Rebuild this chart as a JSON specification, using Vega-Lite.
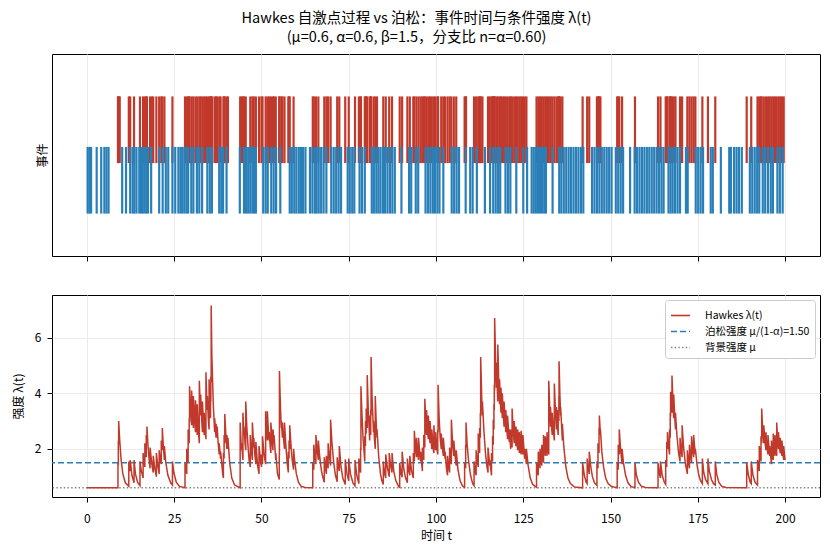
{
"$schema": "https://vega.github.io/schema/vega-lite/v6.json",
"padding": {"left": 11, "top": 11, "right": 10, "bottom": 3},
"background": "white",
"title": {"text": ["Hawkes 自激点过程 vs 泊松：事件时间与条件强度 λ(t)", "(μ=0.6, α=0.6, β=1.5，分支比 n=α=0.60)"], "fontSize": 14.5, "fontWeight": "normal", "anchor": "middle", "lineHeight": 19, "offset": 8, "color": "black"},
"config": {
  "font": "Noto Sans CJK SC",
  "view": {"stroke": "black", "strokeWidth": 1},
  "axis": {"labelFontSize": 12, "titleFontSize": 12, "labelColor": "black", "titleColor": "black", "tickColor": "black", "domain": false, "gridColor": "#ebebeb", "tickSize": 5, "titleFontWeight": "normal", "labelPadding": 6, "titlePadding": 9}
},
"datasets": {
"events": [
{"t":8.9,"s":"H"},{"t":9.0,"s":"H"},{"t":9.1,"s":"H"},{"t":9.4,"s":"H"},{"t":12.0,"s":"H"},{"t":12.4,"s":"H"},{"t":13.5,"s":"H"},{"t":15.2,"s":"H"},{"t":16.1,"s":"H"},{"t":16.6,"s":"H"},{"t":17.0,"s":"H"},{"t":17.2,"s":"H"},{"t":18.1,"s":"H"},{"t":18.6,"s":"H"},{"t":19.0,"s":"H"},{"t":19.9,"s":"H"},{"t":20.7,"s":"H"},{"t":21.3,"s":"H"},{"t":21.6,"s":"H"},{"t":22.2,"s":"H"},{"t":24.5,"s":"H"},
{"t":28.1,"s":"H"},{"t":28.6,"s":"H"},{"t":29.0,"s":"H"},{"t":29.3,"s":"H"},{"t":29.4,"s":"H"},{"t":30.0,"s":"H"},{"t":30.5,"s":"H"},{"t":31.1,"s":"H"},{"t":31.6,"s":"H"},{"t":32.2,"s":"H"},{"t":32.6,"s":"H"},{"t":33.1,"s":"H"},{"t":33.6,"s":"H"},{"t":34.1,"s":"H"},{"t":34.5,"s":"H"},{"t":35.0,"s":"H"},{"t":35.4,"s":"H"},{"t":35.5,"s":"H"},{"t":35.6,"s":"H"},{"t":35.9,"s":"H"},{"t":36.6,"s":"H"},{"t":37.0,"s":"H"},{"t":37.3,"s":"H"},{"t":37.9,"s":"H"},{"t":38.3,"s":"H"},{"t":39.1,"s":"H"},{"t":39.3,"s":"H"},{"t":39.5,"s":"H"},{"t":40.1,"s":"H"},{"t":40.4,"s":"H"},
{"t":43.9,"s":"H"},{"t":44.3,"s":"H"},{"t":44.7,"s":"H"},{"t":45.0,"s":"H"},{"t":45.5,"s":"H"},{"t":46.8,"s":"H"},{"t":47.4,"s":"H"},{"t":47.8,"s":"H"},{"t":48.4,"s":"H"},{"t":49.3,"s":"H"},{"t":50.0,"s":"H"},{"t":50.3,"s":"H"},{"t":51.2,"s":"H"},{"t":51.7,"s":"H"},{"t":52.2,"s":"H"},{"t":52.7,"s":"H"},{"t":53.3,"s":"H"},{"t":53.6,"s":"H"},{"t":54.1,"s":"H"},{"t":55.1,"s":"H"},{"t":55.15,"s":"H"},{"t":55.7,"s":"H"},{"t":56.0,"s":"H"},{"t":56.6,"s":"H"},{"t":57.7,"s":"H"},{"t":57.9,"s":"H"},{"t":58.1,"s":"H"},{"t":59.2,"s":"H"},
{"t":64.7,"s":"H"},{"t":65.0,"s":"H"},{"t":65.6,"s":"H"},{"t":66.3,"s":"H"},{"t":68.0,"s":"H"},{"t":68.6,"s":"H"},{"t":69.1,"s":"H"},{"t":69.8,"s":"H"},{"t":71.7,"s":"H"},{"t":72.3,"s":"H"},{"t":74.0,"s":"H"},{"t":75.0,"s":"H"},{"t":76.8,"s":"H"},{"t":77.9,"s":"H"},{"t":78.4,"s":"H"},{"t":78.5,"s":"H"},{"t":79.6,"s":"H"},{"t":79.8,"s":"H"},{"t":80.0,"s":"H"},{"t":80.3,"s":"H"},{"t":81.0,"s":"H"},{"t":81.3,"s":"H"},{"t":81.4,"s":"H"},{"t":82.1,"s":"H"},{"t":82.6,"s":"H"},{"t":83.1,"s":"H"},{"t":84.9,"s":"H"},{"t":85.6,"s":"H"},{"t":86.6,"s":"H"},{"t":87.4,"s":"H"},{"t":89.6,"s":"H"},{"t":90.3,"s":"H"},{"t":91.8,"s":"H"},{"t":92.5,"s":"H"},{"t":93.5,"s":"H"},{"t":93.8,"s":"H"},{"t":94.4,"s":"H"},{"t":95.0,"s":"H"},{"t":95.6,"s":"H"},{"t":96.1,"s":"H"},{"t":96.5,"s":"H"},{"t":96.8,"s":"H"},{"t":97.3,"s":"H"},{"t":97.8,"s":"H"},{"t":98.3,"s":"H"},{"t":98.8,"s":"H"},{"t":99.4,"s":"H"},{"t":99.9,"s":"H"},{"t":100.5,"s":"H"},{"t":100.6,"s":"H"},{"t":101.5,"s":"H"},{"t":102.1,"s":"H"},{"t":102.6,"s":"H"},{"t":103.3,"s":"H"},{"t":103.9,"s":"H"},{"t":104.4,"s":"H"},{"t":105.1,"s":"H"},{"t":105.8,"s":"H"},
{"t":108.2,"s":"H"},{"t":108.5,"s":"H"},{"t":108.6,"s":"H"},{"t":110.9,"s":"H"},{"t":111.5,"s":"H"},{"t":112.1,"s":"H"},{"t":112.5,"s":"H"},{"t":112.7,"s":"H"},{"t":112.8,"s":"H"},{"t":113.3,"s":"H"},{"t":114.9,"s":"H"},{"t":115.4,"s":"H"},{"t":115.9,"s":"H"},{"t":116.2,"s":"H"},{"t":116.4,"s":"H"},{"t":116.6,"s":"H"},{"t":116.7,"s":"H"},{"t":116.8,"s":"H"},{"t":117.3,"s":"H"},{"t":117.7,"s":"H"},{"t":118.2,"s":"H"},{"t":118.6,"s":"H"},{"t":119.0,"s":"H"},{"t":119.5,"s":"H"},{"t":120.0,"s":"H"},{"t":120.5,"s":"H"},{"t":121.0,"s":"H"},{"t":121.4,"s":"H"},{"t":121.8,"s":"H"},{"t":122.4,"s":"H"},{"t":122.9,"s":"H"},{"t":123.4,"s":"H"},{"t":123.9,"s":"H"},{"t":124.4,"s":"H"},{"t":124.9,"s":"H"},{"t":125.4,"s":"H"},{"t":125.9,"s":"H"},
{"t":128.8,"s":"H"},{"t":129.3,"s":"H"},{"t":129.8,"s":"H"},{"t":130.3,"s":"H"},{"t":130.8,"s":"H"},{"t":131.3,"s":"H"},{"t":131.8,"s":"H"},{"t":132.3,"s":"H"},{"t":132.8,"s":"H"},{"t":133.3,"s":"H"},{"t":133.9,"s":"H"},{"t":134.5,"s":"H"},{"t":135.0,"s":"H"},{"t":135.2,"s":"H"},{"t":135.25,"s":"H"},{"t":135.7,"s":"H"},{"t":136.2,"s":"H"},{"t":142.0,"s":"H"},{"t":143.3,"s":"H"},{"t":143.9,"s":"H"},{"t":146.1,"s":"H"},{"t":146.4,"s":"H"},{"t":146.7,"s":"H"},{"t":146.8,"s":"H"},{"t":147.1,"s":"H"},{"t":151.9,"s":"H"},{"t":152.2,"s":"H"},{"t":152.5,"s":"H"},{"t":153.3,"s":"H"},{"t":157.0,"s":"H"},{"t":163.6,"s":"H"},{"t":164.3,"s":"H"},{"t":165.8,"s":"H"},{"t":166.1,"s":"H"},{"t":166.3,"s":"H"},{"t":166.9,"s":"H"},{"t":167.1,"s":"H"},{"t":167.2,"s":"H"},{"t":167.6,"s":"H"},{"t":168.1,"s":"H"},{"t":168.6,"s":"H"},{"t":169.9,"s":"H"},{"t":170.5,"s":"H"},{"t":172.0,"s":"H"},{"t":172.6,"s":"H"},{"t":173.2,"s":"H"},{"t":173.8,"s":"H"},{"t":174.3,"s":"H"},{"t":176.3,"s":"H"},{"t":177.9,"s":"H"},{"t":180.0,"s":"H"},{"t":189.0,"s":"H"},{"t":190.3,"s":"H"},{"t":192.1,"s":"H"},{"t":192.6,"s":"H"},{"t":193.1,"s":"H"},{"t":193.3,"s":"H"},{"t":193.9,"s":"H"},{"t":194.5,"s":"H"},{"t":195.1,"s":"H"},{"t":195.6,"s":"H"},{"t":196.1,"s":"H"},{"t":196.6,"s":"H"},{"t":197.1,"s":"H"},{"t":197.6,"s":"H"},{"t":198.1,"s":"H"},{"t":198.6,"s":"H"},{"t":199.1,"s":"H"},{"t":199.6,"s":"H"},
{"t":0.2,"s":"P"},{"t":0.7,"s":"P"},{"t":1.2,"s":"P"},{"t":2.8,"s":"P"},{"t":4.1,"s":"P"},{"t":5.0,"s":"P"},{"t":5.6,"s":"P"},{"t":6.2,"s":"P"},{"t":10.1,"s":"P"},{"t":11.2,"s":"P"},{"t":12.4,"s":"P"},{"t":13.1,"s":"P"},{"t":13.6,"s":"P"},{"t":14.2,"s":"P"},{"t":15.0,"s":"P"},{"t":15.5,"s":"P"},{"t":16.0,"s":"P"},{"t":16.5,"s":"P"},{"t":17.0,"s":"P"},{"t":17.5,"s":"P"},{"t":18.4,"s":"P"},{"t":20.7,"s":"P"},{"t":21.7,"s":"P"},{"t":22.6,"s":"P"},{"t":23.3,"s":"P"},{"t":24.5,"s":"P"},{"t":25.3,"s":"P"},{"t":26.2,"s":"P"},{"t":26.8,"s":"P"},{"t":27.3,"s":"P"},{"t":27.9,"s":"P"},{"t":28.5,"s":"P"},{"t":29.0,"s":"P"},{"t":29.9,"s":"P"},{"t":30.5,"s":"P"},{"t":31.5,"s":"P"},{"t":32.2,"s":"P"},{"t":33.0,"s":"P"},{"t":34.5,"s":"P"},{"t":35.2,"s":"P"},{"t":35.8,"s":"P"},{"t":37.9,"s":"P"},{"t":38.5,"s":"P"},{"t":39.0,"s":"P"},{"t":40.0,"s":"P"},{"t":43.8,"s":"P"},{"t":45.0,"s":"P"},{"t":45.6,"s":"P"},{"t":46.2,"s":"P"},{"t":46.8,"s":"P"},{"t":47.4,"s":"P"},{"t":47.9,"s":"P"},{"t":48.4,"s":"P"},{"t":50.5,"s":"P"},{"t":51.2,"s":"P"},{"t":51.8,"s":"P"},{"t":52.8,"s":"P"},{"t":53.5,"s":"P"},{"t":54.2,"s":"P"},{"t":55.4,"s":"P"},{"t":58.1,"s":"P"},{"t":58.7,"s":"P"},{"t":59.4,"s":"P"},{"t":60.0,"s":"P"},{"t":60.7,"s":"P"},{"t":61.3,"s":"P"},{"t":61.9,"s":"P"},{"t":62.6,"s":"P"},{"t":63.9,"s":"P"},{"t":64.6,"s":"P"},{"t":65.3,"s":"P"},{"t":65.8,"s":"P"},{"t":66.4,"s":"P"},{"t":67.1,"s":"P"},{"t":67.8,"s":"P"},{"t":68.6,"s":"P"},{"t":70.0,"s":"P"},{"t":70.7,"s":"P"},{"t":71.4,"s":"P"},{"t":72.1,"s":"P"},{"t":72.8,"s":"P"},{"t":74.7,"s":"P"},{"t":75.3,"s":"P"},{"t":76.0,"s":"P"},{"t":76.6,"s":"P"},{"t":78.1,"s":"P"},{"t":78.8,"s":"P"},{"t":79.6,"s":"P"},{"t":81.6,"s":"P"},{"t":82.2,"s":"P"},{"t":82.9,"s":"P"},{"t":83.5,"s":"P"},{"t":84.1,"s":"P"},{"t":84.8,"s":"P"},{"t":85.4,"s":"P"},{"t":86.1,"s":"P"},{"t":86.8,"s":"P"},{"t":87.5,"s":"P"},{"t":88.2,"s":"P"},{"t":90.1,"s":"P"},{"t":92.3,"s":"P"},{"t":92.9,"s":"P"},{"t":94.2,"s":"P"},{"t":94.9,"s":"P"},{"t":97.0,"s":"P"},{"t":97.7,"s":"P"},{"t":98.4,"s":"P"},{"t":99.1,"s":"P"},{"t":99.7,"s":"P"},{"t":100.4,"s":"P"},{"t":101.0,"s":"P"},{"t":102.1,"s":"P"},{"t":104.5,"s":"P"},{"t":105.2,"s":"P"},{"t":105.9,"s":"P"},{"t":106.6,"s":"P"},{"t":108.5,"s":"P"},{"t":109.8,"s":"P"},{"t":110.5,"s":"P"},{"t":111.7,"s":"P"},{"t":114.0,"s":"P"},{"t":115.5,"s":"P"},{"t":116.4,"s":"P"},{"t":117.1,"s":"P"},{"t":117.8,"s":"P"},{"t":118.4,"s":"P"},{"t":119.9,"s":"P"},{"t":120.6,"s":"P"},{"t":121.3,"s":"P"},{"t":123.0,"s":"P"},{"t":125.0,"s":"P"},{"t":126.1,"s":"P"},{"t":127.4,"s":"P"},{"t":128.0,"s":"P"},{"t":128.6,"s":"P"},{"t":129.2,"s":"P"},{"t":129.8,"s":"P"},{"t":130.4,"s":"P"},{"t":131.0,"s":"P"},{"t":131.5,"s":"P"},{"t":133.4,"s":"P"},{"t":135.3,"s":"P"},{"t":135.9,"s":"P"},{"t":136.6,"s":"P"},{"t":137.3,"s":"P"},{"t":138.0,"s":"P"},{"t":138.7,"s":"P"},{"t":139.4,"s":"P"},{"t":140.1,"s":"P"},{"t":140.8,"s":"P"},{"t":141.5,"s":"P"},{"t":142.2,"s":"P"},{"t":144.7,"s":"P"},{"t":145.4,"s":"P"},{"t":146.1,"s":"P"},{"t":146.8,"s":"P"},{"t":147.5,"s":"P"},{"t":148.2,"s":"P"},{"t":148.9,"s":"P"},{"t":149.6,"s":"P"},{"t":150.3,"s":"P"},{"t":151.5,"s":"P"},{"t":152.2,"s":"P"},{"t":152.9,"s":"P"},{"t":153.6,"s":"P"},{"t":155.6,"s":"P"},{"t":156.9,"s":"P"},{"t":157.6,"s":"P"},{"t":158.3,"s":"P"},{"t":159.0,"s":"P"},{"t":159.7,"s":"P"},{"t":160.4,"s":"P"},{"t":161.1,"s":"P"},{"t":161.8,"s":"P"},{"t":162.5,"s":"P"},{"t":163.2,"s":"P"},{"t":163.9,"s":"P"},{"t":164.6,"s":"P"},{"t":165.2,"s":"P"},{"t":166.6,"s":"P"},{"t":167.2,"s":"P"},{"t":167.8,"s":"P"},{"t":168.5,"s":"P"},{"t":169.2,"s":"P"},{"t":169.9,"s":"P"},{"t":171.6,"s":"P"},{"t":172.1,"s":"P"},{"t":174.4,"s":"P"},{"t":175.1,"s":"P"},{"t":175.8,"s":"P"},{"t":176.5,"s":"P"},{"t":178.7,"s":"P"},{"t":179.3,"s":"P"},{"t":181.6,"s":"P"},{"t":184.0,"s":"P"},{"t":184.5,"s":"P"},{"t":185.4,"s":"P"},{"t":186.1,"s":"P"},{"t":186.8,"s":"P"},{"t":187.6,"s":"P"},{"t":189.9,"s":"P"},{"t":190.6,"s":"P"},{"t":191.3,"s":"P"},{"t":192.0,"s":"P"},{"t":192.6,"s":"P"},{"t":193.6,"s":"P"},{"t":194.3,"s":"P"},{"t":195.1,"s":"P"},{"t":195.9,"s":"P"},{"t":196.5,"s":"P"},{"t":197.8,"s":"P"},{"t":198.5,"s":"P"},{"t":199.3,"s":"P"}
],
"lam": [
{"t":0,"v":0.6},{"t":8.9,"v":0.6},{"t":8.9,"v":1.5},{"t":9.0,"v":1.4},{"t":9.0,"v":2.3},{"t":9.1,"v":2.15},{"t":9.1,"v":3.0},{"t":9.4,"v":2.3},{"t":9.8,"v":1.6},{"t":10.3,"v":1.1},{"t":11.0,"v":0.78},{"t":12.0,"v":0.66},{"t":12.0,"v":1.55},{"t":12.4,"v":1.2},{"t":12.4,"v":1.6},{"t":12.9,"v":1.05},{"t":13.5,"v":0.78},{"t":13.5,"v":1.6},{"t":13.9,"v":1.1},{"t":14.5,"v":0.8},{"t":15.2,"v":0.68},{"t":15.2,"v":1.55},{"t":15.6,"v":1.2},{"t":16.1,"v":0.95},{"t":16.1,"v":1.85},{"t":16.6,"v":1.35},{"t":16.6,"v":2.2},{"t":17.0,"v":1.7},{"t":17.0,"v":2.5},{"t":17.2,"v":2.2},{"t":17.2,"v":2.8},{"t":17.5,"v":2.1},{"t":17.9,"v":1.5},{"t":18.1,"v":1.3},{"t":18.1,"v":2.05},{"t":18.6,"v":1.45},{"t":19.0,"v":1.15},{"t":19.0,"v":1.75},{"t":19.5,"v":1.25},{"t":19.9,"v":1.0},{"t":19.9,"v":1.85},{"t":20.3,"v":1.4},{"t":20.7,"v":1.1},{"t":20.7,"v":1.95},{"t":21.0,"v":1.65},{"t":21.3,"v":1.45},{"t":21.3,"v":2.3},{"t":21.6,"v":1.95},{"t":21.6,"v":2.75},{"t":21.9,"v":2.05},{"t":22.2,"v":1.6},{"t":22.2,"v":2.1},{"t":22.6,"v":1.5},{"t":23.2,"v":1.05},{"t":24.0,"v":0.78},{"t":24.5,"v":0.7},{"t":24.5,"v":1.55},{"t":24.9,"v":1.15},{"t":25.6,"v":0.8},{"t":26.5,"v":0.65},
{"t":28.1,"v":0.6},{"t":28.1,"v":1.5},{"t":28.6,"v":1.1},{"t":28.6,"v":2.0},{"t":29.0,"v":1.5},{"t":29.0,"v":2.7},{"t":29.3,"v":2.2},{"t":29.3,"v":3.1},{"t":29.4,"v":2.95},{"t":29.4,"v":4.25},{"t":29.7,"v":3.4},{"t":30.0,"v":2.85},{"t":30.0,"v":4.1},{"t":30.3,"v":3.2},{"t":30.5,"v":2.75},{"t":30.5,"v":3.9},{"t":30.8,"v":3.15},{"t":31.1,"v":2.6},{"t":31.1,"v":3.75},{"t":31.4,"v":2.9},{"t":31.6,"v":2.5},{"t":31.6,"v":3.6},{"t":31.9,"v":2.7},{"t":32.2,"v":2.2},{"t":32.2,"v":4.45},{"t":32.5,"v":3.4},{"t":32.6,"v":3.2},{"t":32.6,"v":3.95},{"t":32.9,"v":3.0},{"t":33.1,"v":2.6},{"t":33.1,"v":3.7},{"t":33.4,"v":2.9},{"t":33.6,"v":2.5},{"t":33.6,"v":3.3},{"t":33.9,"v":2.6},{"t":34.1,"v":2.35},{"t":34.1,"v":4.75},{"t":34.3,"v":3.9},{"t":34.5,"v":3.4},{"t":34.5,"v":3.9},{"t":34.8,"v":3.0},{"t":35.0,"v":2.7},{"t":35.0,"v":4.5},{"t":35.3,"v":3.3},{"t":35.4,"v":3.1},{"t":35.4,"v":3.9},{"t":35.5,"v":3.7},{"t":35.5,"v":4.6},{"t":35.6,"v":4.4},{"t":35.6,"v":7.15},{"t":35.8,"v":5.3},{"t":35.9,"v":4.9},{"t":36.2,"v":3.6},{"t":36.6,"v":2.6},{"t":36.6,"v":3.1},{"t":37.0,"v":2.4},{"t":37.0,"v":2.9},{"t":37.3,"v":2.4},{"t":37.3,"v":2.8},{"t":37.6,"v":2.2},{"t":37.9,"v":1.8},{"t":37.9,"v":2.2},{"t":38.3,"v":1.65},{"t":38.3,"v":1.9},{"t":38.9,"v":1.1},{"t":39.1,"v":0.95},{"t":39.1,"v":1.85},{"t":39.3,"v":1.65},{"t":39.3,"v":2.5},{"t":39.5,"v":2.2},{"t":39.5,"v":3.25},{"t":39.8,"v":2.5},{"t":40.1,"v":2.0},{"t":40.1,"v":2.5},{"t":40.4,"v":2.0},{"t":40.4,"v":2.4},{"t":40.9,"v":1.5},{"t":41.5,"v":0.95},{"t":42.3,"v":0.7},{"t":43.9,"v":0.6},
{"t":43.9,"v":2.95},{"t":44.2,"v":2.1},{"t":44.3,"v":1.95},{"t":44.3,"v":2.2},{"t":44.7,"v":1.6},{"t":44.7,"v":3.3},{"t":45.0,"v":2.5},{"t":45.0,"v":2.8},{"t":45.3,"v":2.2},{"t":45.5,"v":1.95},{"t":45.5,"v":3.7},{"t":45.8,"v":2.8},{"t":46.2,"v":2.0},{"t":46.5,"v":1.55},{"t":46.8,"v":1.35},{"t":46.8,"v":2.5},{"t":47.1,"v":1.95},{"t":47.4,"v":1.6},{"t":47.4,"v":2.95},{"t":47.8,"v":2.05},{"t":47.8,"v":2.4},{"t":48.1,"v":1.8},{"t":48.4,"v":1.45},{"t":48.4,"v":2.25},{"t":48.9,"v":1.4},{"t":49.3,"v":1.1},{"t":49.3,"v":2.1},{"t":49.8,"v":1.5},{"t":50.0,"v":1.35},{"t":50.0,"v":1.8},{"t":50.3,"v":1.45},{"t":50.3,"v":2.45},{"t":50.8,"v":1.75},{"t":51.2,"v":1.45},{"t":51.2,"v":3.35},{"t":51.5,"v":2.6},{"t":51.7,"v":2.3},{"t":51.7,"v":3.35},{"t":52.0,"v":2.6},{"t":52.2,"v":2.3},{"t":52.2,"v":2.6},{"t":52.5,"v":2.1},{"t":52.7,"v":1.85},{"t":52.7,"v":2.95},{"t":53.1,"v":2.2},{"t":53.3,"v":1.95},{"t":53.3,"v":2.7},{"t":53.6,"v":2.2},{"t":53.6,"v":2.5},{"t":54.1,"v":1.6},{"t":54.1,"v":1.85},{"t":54.6,"v":1.1},{"t":55.1,"v":0.9},{"t":55.1,"v":1.8},{"t":55.15,"v":1.75},{"t":55.15,"v":4.8},{"t":55.5,"v":3.3},{"t":55.7,"v":2.75},{"t":55.7,"v":3.0},{"t":56.0,"v":2.4},{"t":56.0,"v":2.95},{"t":56.3,"v":2.4},{"t":56.6,"v":2.0},{"t":56.6,"v":2.95},{"t":57.0,"v":2.1},{"t":57.4,"v":1.45},{"t":57.7,"v":1.15},{"t":57.7,"v":1.9},{"t":57.9,"v":1.65},{"t":57.9,"v":2.3},{"t":58.1,"v":2.0},{"t":58.1,"v":2.85},{"t":58.5,"v":2.05},{"t":58.8,"v":1.6},{"t":59.2,"v":1.25},{"t":59.2,"v":2.0},{"t":59.5,"v":1.6},{"t":60.0,"v":1.1},{"t":60.6,"v":0.8},{"t":61.3,"v":0.66},{"t":62.5,"v":0.61},{"t":64.7,"v":0.6},
{"t":64.7,"v":1.5},{"t":65.0,"v":1.25},{"t":65.0,"v":2.15},{"t":65.3,"v":1.75},{"t":65.6,"v":1.45},{"t":65.6,"v":2.5},{"t":66.0,"v":1.9},{"t":66.3,"v":1.6},{"t":66.3,"v":2.3},{"t":66.7,"v":1.7},{"t":67.2,"v":1.2},{"t":67.6,"v":0.98},{"t":68.0,"v":0.8},{"t":68.0,"v":1.7},{"t":68.3,"v":1.35},{"t":68.6,"v":1.1},{"t":68.6,"v":1.75},{"t":69.1,"v":1.3},{"t":69.1,"v":2.2},{"t":69.5,"v":1.7},{"t":69.8,"v":1.4},{"t":69.8,"v":3.05},{"t":70.2,"v":2.2},{"t":70.7,"v":1.5},{"t":71.2,"v":1.05},{"t":71.7,"v":0.82},{"t":71.7,"v":1.7},{"t":72.0,"v":1.35},{"t":72.3,"v":1.2},{"t":72.3,"v":2.1},{"t":72.8,"v":1.35},{"t":73.3,"v":0.95},{"t":74.0,"v":0.72},{"t":74.0,"v":1.62},{"t":74.5,"v":1.1},{"t":75.0,"v":0.85},{"t":75.0,"v":1.65},{"t":75.5,"v":1.1},{"t":76.2,"v":0.78},{"t":76.8,"v":0.67},{"t":76.8,"v":1.6},{"t":77.3,"v":1.05},{"t":77.9,"v":0.75},{"t":77.9,"v":1.65},{"t":78.2,"v":1.3},{"t":78.4,"v":1.15},{"t":78.4,"v":2.05},{"t":78.5,"v":1.95},{"t":78.5,"v":4.25},
{"t":78.8,"v":3.2},{"t":79.1,"v":2.4},{"t":79.6,"v":1.55},{"t":79.6,"v":2.45},{"t":79.8,"v":2.1},{"t":79.8,"v":3.0},{"t":80.0,"v":2.55},{"t":80.0,"v":3.45},{"t":80.3,"v":2.75},{"t":80.3,"v":4.65},{"t":80.6,"v":3.4},{"t":81.0,"v":2.3},{"t":81.0,"v":3.2},{"t":81.3,"v":2.5},{"t":81.3,"v":3.4},{"t":81.4,"v":3.2},{"t":81.4,"v":5.3},{"t":81.7,"v":3.8},{"t":82.1,"v":2.6},{"t":82.1,"v":3.0},{"t":82.4,"v":2.3},{"t":82.6,"v":2.0},{"t":82.6,"v":3.9},{"t":82.9,"v":2.85},{"t":83.1,"v":2.4},{"t":83.1,"v":2.7},{"t":83.6,"v":1.7},{"t":84.1,"v":1.1},{"t":84.5,"v":0.85},{"t":84.9,"v":0.72},{"t":84.9,"v":1.55},{"t":85.3,"v":1.1},{"t":85.6,"v":0.95},{"t":85.6,"v":1.8},{"t":86.1,"v":1.3},{"t":86.6,"v":1.0},{"t":86.6,"v":1.85},{"t":87.0,"v":1.4},{"t":87.4,"v":1.15},{"t":87.4,"v":1.85},{"t":87.9,"v":1.2},{"t":88.5,"v":0.85},{"t":89.3,"v":0.65},{"t":89.6,"v":0.62},
{"t":89.6,"v":1.5},{"t":90.0,"v":1.1},{"t":90.3,"v":0.98},{"t":90.3,"v":1.9},{"t":90.8,"v":1.25},{"t":91.3,"v":0.95},{"t":91.8,"v":0.78},{"t":91.8,"v":1.65},{"t":92.2,"v":1.2},{"t":92.5,"v":1.05},{"t":92.5,"v":1.75},{"t":93.0,"v":1.2},{"t":93.5,"v":0.95},{"t":93.5,"v":1.85},{"t":93.8,"v":1.55},{"t":93.8,"v":2.65},{"t":94.1,"v":2.0},{"t":94.4,"v":1.7},{"t":94.4,"v":2.4},{"t":94.8,"v":1.8},{"t":95.0,"v":1.6},{"t":95.0,"v":2.4},{"t":95.3,"v":1.9},{"t":95.6,"v":1.55},{"t":95.6,"v":1.9},{"t":96.1,"v":1.2},{"t":96.1,"v":2.05},{"t":96.5,"v":1.6},{"t":96.5,"v":2.5},{"t":96.8,"v":2.05},{"t":96.8,"v":3.8},{"t":97.1,"v":2.9},{"t":97.3,"v":2.5},{"t":97.3,"v":3.4},{"t":97.6,"v":2.6},{"t":97.8,"v":2.35},{"t":97.8,"v":3.2},{"t":98.1,"v":2.5},{"t":98.3,"v":2.2},{"t":98.3,"v":3.0},{"t":98.6,"v":2.3},{"t":98.8,"v":2.0},{"t":98.8,"v":2.7},{"t":99.2,"v":2.0},{"t":99.4,"v":1.85},{"t":99.4,"v":2.85},{"t":99.7,"v":2.2},{"t":99.9,"v":1.95},{"t":99.9,"v":2.6},{"t":100.2,"v":2.1},{"t":100.5,"v":1.8},{"t":100.5,"v":2.7},{"t":100.6,"v":2.6},{"t":100.6,"v":4.3},{"t":100.9,"v":3.1},{"t":101.2,"v":2.4},{"t":101.5,"v":2.0},{"t":101.5,"v":2.55},{"t":101.9,"v":1.95},{"t":102.1,"v":1.75},{"t":102.1,"v":2.4},{"t":102.6,"v":1.65},{"t":102.6,"v":1.9},{"t":103.0,"v":1.3},{"t":103.3,"v":1.05},{"t":103.3,"v":1.75},{"t":103.7,"v":1.3},{"t":103.9,"v":1.15},{"t":103.9,"v":2.05},{"t":104.2,"v":1.6},{"t":104.4,"v":1.45},{"t":104.4,"v":3.05},{"t":104.8,"v":2.1},{"t":105.1,"v":1.75},{"t":105.1,"v":2.3},{"t":105.5,"v":1.7},{"t":105.8,"v":1.4},{"t":105.8,"v":1.95},{"t":106.3,"v":1.25},{"t":106.9,"v":0.85},{"t":107.6,"v":0.67},{"t":108.2,"v":0.62},
{"t":108.2,"v":1.5},{"t":108.5,"v":1.3},{"t":108.5,"v":2.15},{"t":108.6,"v":2.05},{"t":108.6,"v":2.95},{"t":108.9,"v":2.2},{"t":109.3,"v":1.6},{"t":109.9,"v":1.05},{"t":110.5,"v":0.75},{"t":110.9,"v":0.68},{"t":110.9,"v":1.55},{"t":111.3,"v":1.15},{"t":111.5,"v":1.05},{"t":111.5,"v":1.95},{"t":111.9,"v":1.5},{"t":112.1,"v":1.35},{"t":112.1,"v":2.55},{"t":112.5,"v":1.85},{"t":112.5,"v":2.75},{"t":112.7,"v":2.4},{"t":112.7,"v":3.3},{"t":112.8,"v":3.15},{"t":112.8,"v":5.3},{"t":113.1,"v":3.8},{"t":113.3,"v":3.2},{"t":113.3,"v":3.7},{"t":113.7,"v":2.7},{"t":114.2,"v":1.8},{"t":114.6,"v":1.35},{"t":114.9,"v":1.15},{"t":114.9,"v":2.05},{"t":115.4,"v":1.4},{"t":115.4,"v":1.6},{"t":115.9,"v":1.05},{"t":115.9,"v":1.85},{"t":116.2,"v":1.55},{"t":116.2,"v":2.45},{"t":116.4,"v":2.15},{"t":116.4,"v":3.05},{"t":116.6,"v":2.7},{"t":116.6,"v":3.6},{"t":116.7,"v":3.4},{"t":116.7,"v":4.3},{"t":116.8,"v":4.1},{"t":116.8,"v":6.7},{"t":117.1,"v":5.0},{"t":117.3,"v":4.2},{"t":117.3,"v":5.1},{"t":117.5,"v":4.3},{"t":117.7,"v":3.7},{"t":117.7,"v":5.75},{"t":118.0,"v":4.3},{"t":118.2,"v":3.6},{"t":118.2,"v":4.5},{"t":118.6,"v":3.3},{"t":118.6,"v":4.2},{"t":119.0,"v":3.1},{"t":119.0,"v":4.0},{"t":119.3,"v":3.2},{"t":119.5,"v":2.8},{"t":119.5,"v":3.7},{"t":119.9,"v":2.8},{"t":120.0,"v":2.6},{"t":120.0,"v":3.4},{"t":120.3,"v":2.7},{"t":120.5,"v":2.35},{"t":120.5,"v":3.2},{"t":121.0,"v":2.25},{"t":121.0,"v":2.7},{"t":121.4,"v":2.0},{"t":121.4,"v":2.7},{"t":121.8,"v":2.05},{"t":121.8,"v":3.45},{"t":122.1,"v":2.7},{"t":122.4,"v":2.2},{"t":122.4,"v":3.0},{"t":122.7,"v":2.4},{"t":122.9,"v":2.1},{"t":122.9,"v":2.8},{"t":123.2,"v":2.2},{"t":123.4,"v":1.95},{"t":123.4,"v":2.7},{"t":123.7,"v":2.1},{"t":123.9,"v":1.85},{"t":123.9,"v":2.6},{"t":124.2,"v":2.0},{"t":124.4,"v":1.8},{"t":124.4,"v":2.65},{"t":124.7,"v":2.05},{"t":124.9,"v":1.8},{"t":124.9,"v":2.5},{"t":125.4,"v":1.65},{"t":125.4,"v":2.0},{"t":125.9,"v":1.45},{"t":125.9,"v":2.0},{"t":126.4,"v":1.4},{"t":127.0,"v":0.95},{"t":127.7,"v":0.72},{"t":128.8,"v":0.62},
{"t":128.8,"v":1.5},{"t":129.3,"v":1.05},{"t":129.3,"v":1.9},{"t":129.8,"v":1.3},{"t":129.8,"v":2.0},{"t":130.3,"v":1.4},{"t":130.3,"v":2.15},{"t":130.8,"v":1.5},{"t":130.8,"v":2.5},{"t":131.3,"v":1.75},{"t":131.3,"v":2.45},{"t":131.8,"v":1.75},{"t":131.8,"v":2.6},{"t":132.1,"v":2.05},{"t":132.3,"v":1.8},{"t":132.3,"v":4.45},{"t":132.6,"v":3.4},{"t":132.8,"v":2.8},{"t":132.8,"v":3.5},{"t":133.1,"v":2.8},{"t":133.3,"v":2.5},{"t":133.3,"v":3.3},{"t":133.6,"v":2.7},{"t":133.9,"v":2.3},{"t":133.9,"v":4.35},{"t":134.2,"v":3.4},{"t":134.5,"v":2.7},{"t":134.5,"v":3.5},{"t":134.8,"v":2.8},{"t":135.0,"v":2.5},{"t":135.0,"v":3.4},{"t":135.2,"v":3.0},{"t":135.2,"v":3.9},{"t":135.25,"v":3.8},{"t":135.25,"v":5.15},{"t":135.5,"v":3.9},{"t":135.7,"v":3.2},{"t":135.7,"v":3.5},{"t":136.2,"v":2.3},{"t":136.2,"v":2.9},{"t":136.6,"v":2.1},{"t":137.2,"v":1.35},{"t":137.8,"v":0.95},{"t":138.5,"v":0.75},{"t":139.7,"v":0.63},{"t":142.0,"v":0.6},
{"t":142.0,"v":1.5},{"t":142.5,"v":1.05},{"t":143.0,"v":0.8},{"t":143.3,"v":0.75},{"t":143.3,"v":1.65},{"t":143.6,"v":1.3},{"t":143.9,"v":1.1},{"t":143.9,"v":1.9},{"t":144.3,"v":1.4},{"t":144.8,"v":1.0},{"t":145.4,"v":0.78},{"t":146.1,"v":0.68},{"t":146.1,"v":1.55},{"t":146.4,"v":1.3},{"t":146.4,"v":2.2},{"t":146.7,"v":1.85},{"t":146.7,"v":2.75},{"t":146.8,"v":2.6},{"t":146.8,"v":3.2},{"t":147.1,"v":2.5},{"t":147.1,"v":2.7},{"t":147.5,"v":1.9},{"t":148.0,"v":1.35},{"t":148.6,"v":0.95},{"t":149.3,"v":0.75},{"t":150.2,"v":0.65},{"t":151.9,"v":0.6},{"t":151.9,"v":1.5},{"t":152.2,"v":1.25},{"t":152.2,"v":2.15},{"t":152.5,"v":1.8},{"t":152.5,"v":2.7},{"t":152.9,"v":1.95},{"t":153.3,"v":1.45},{"t":153.3,"v":2.0},{"t":153.7,"v":1.5},{"t":154.3,"v":1.05},{"t":155.0,"v":0.78},{"t":155.9,"v":0.64},{"t":157.0,"v":0.6},{"t":157.0,"v":1.5},{"t":157.4,"v":1.05},{"t":158.0,"v":0.8},{"t":158.8,"v":0.66},{"t":160.0,"v":0.61},{"t":163.6,"v":0.6},{"t":163.6,"v":1.5},{"t":164.0,"v":1.1},{"t":164.3,"v":0.95},{"t":164.3,"v":1.55},{"t":164.8,"v":1.05},{"t":165.4,"v":0.8},{"t":165.8,"v":0.72},{"t":165.8,"v":1.6},{"t":166.1,"v":1.35},{"t":166.1,"v":2.25},{"t":166.3,"v":2.0},{"t":166.3,"v":2.6},{"t":166.6,"v":2.1},{"t":166.9,"v":1.8},{"t":166.9,"v":2.7},{"t":167.1,"v":2.4},{"t":167.1,"v":3.3},{"t":167.2,"v":3.15},{"t":167.2,"v":4.05},{"t":167.4,"v":3.6},{"t":167.6,"v":3.3},{"t":167.6,"v":4.64},
{"t":167.9,"v":3.6},{"t":168.1,"v":3.1},{"t":168.1,"v":3.95},{"t":168.4,"v":3.1},{"t":168.6,"v":2.7},{"t":168.6,"v":3.3},{"t":169.0,"v":2.5},{"t":169.5,"v":1.85},{"t":169.9,"v":1.55},{"t":169.9,"v":2.4},{"t":170.2,"v":1.95},{"t":170.5,"v":1.7},{"t":170.5,"v":2.85},{"t":170.9,"v":2.1},{"t":171.4,"v":1.5},{"t":172.0,"v":1.1},{"t":172.0,"v":1.95},{"t":172.4,"v":1.45},{"t":172.6,"v":1.3},{"t":172.6,"v":2.15},{"t":172.9,"v":1.75},{"t":173.2,"v":1.5},{"t":173.2,"v":2.45},{"t":173.6,"v":1.9},{"t":173.8,"v":1.7},{"t":173.8,"v":2.5},{"t":174.1,"v":2.05},{"t":174.3,"v":1.8},{"t":174.3,"v":2.0},{"t":174.8,"v":1.4},{"t":175.3,"v":1.05},{"t":175.8,"v":0.85},{"t":176.3,"v":0.75},{"t":176.3,"v":1.65},{"t":176.7,"v":1.15},{"t":177.2,"v":0.9},{"t":177.9,"v":0.75},{"t":177.9,"v":1.65},{"t":178.3,"v":1.2},{"t":178.9,"v":0.9},{"t":179.5,"v":0.75},{"t":180.0,"v":0.7},{"t":180.0,"v":1.55},{"t":180.4,"v":1.1},{"t":181.0,"v":0.8},{"t":181.8,"v":0.66},{"t":183.0,"v":0.61},{"t":189.0,"v":0.6},
{"t":189.0,"v":1.5},{"t":189.5,"v":1.05},{"t":190.0,"v":0.8},{"t":190.3,"v":0.75},{"t":190.3,"v":1.55},{"t":190.8,"v":1.05},{"t":191.4,"v":0.8},{"t":192.1,"v":0.7},{"t":192.1,"v":1.6},{"t":192.4,"v":1.35},{"t":192.6,"v":1.2},{"t":192.6,"v":2.1},{"t":192.9,"v":1.75},{"t":193.1,"v":1.55},{"t":193.1,"v":2.45},{"t":193.3,"v":2.2},{"t":193.3,"v":3.45},{"t":193.6,"v":2.6},{"t":193.9,"v":2.2},{"t":193.9,"v":2.85},{"t":194.2,"v":2.3},{"t":194.5,"v":1.95},{"t":194.5,"v":2.6},{"t":194.8,"v":2.05},{"t":195.1,"v":1.8},{"t":195.1,"v":2.5},{"t":195.6,"v":1.75},{"t":195.6,"v":2.1},{"t":196.1,"v":1.45},{"t":196.1,"v":2.3},{"t":196.4,"v":1.8},{"t":196.6,"v":1.6},{"t":196.6,"v":2.55},{"t":196.9,"v":1.95},{"t":197.1,"v":1.75},{"t":197.1,"v":2.5},{"t":197.4,"v":1.95},{"t":197.6,"v":1.75},{"t":197.6,"v":2.95},{"t":197.9,"v":2.2},{"t":198.1,"v":2.0},{"t":198.1,"v":2.6},{"t":198.4,"v":2.05},{"t":198.6,"v":1.85},{"t":198.6,"v":2.4},{"t":198.9,"v":1.9},{"t":199.1,"v":1.75},{"t":199.1,"v":2.3},{"t":199.4,"v":1.8},{"t":199.6,"v":1.6},{"t":199.6,"v":2.1},{"t":200.0,"v":1.6}
],
"refs": [
{"series":"泊松强度 μ/(1-α)=1.50","v":1.5},
{"series":"背景强度 μ","v":0.6}
]
},
"vconcat": [
{
 "width": 768, "height": 202,
 "data": {"name": "events"},
 "layer": [
  {"transform": [{"filter": "datum.s === 'H'"}],
   "mark": {"type": "rule", "color": "#c0392b", "strokeWidth": 2.2},
   "encoding": {
    "x": {"field": "t", "type": "quantitative", "scale": {"domain": [-10, 210], "nice": false, "zero": false}, "axis": {"values": [0,25,50,75,100,125,150,175,200], "labels": false, "title": null, "grid": true}},
    "y": {"datum": 0.34, "type": "quantitative", "scale": {"domain": [-1.5, 2.5], "nice": false, "zero": false}, "axis": {"title": "事件", "labels": false, "ticks": false, "grid": false, "titlePadding": 3}},
    "y2": {"datum": 1.66}
   }},
  {"transform": [{"filter": "datum.s === 'P'"}],
   "mark": {"type": "rule", "color": "#2980b9", "strokeWidth": 2.2},
   "encoding": {
    "x": {"field": "t", "type": "quantitative"},
    "y": {"datum": -0.66, "type": "quantitative"},
    "y2": {"datum": 0.66}
   }}
 ]
},
{
 "width": 768, "height": 202,
 "resolve": {"scale": {"color": "independent", "strokeDash": "independent"}, "legend": {"color": "independent", "strokeDash": "independent"}},
 "layer": [
  {"data": {"name": "refs"},
   "mark": {"type": "rule", "strokeWidth": 1.4},
   "encoding": {
    "y": {"field": "v", "type": "quantitative", "scale": {"domain": [0.27, 7.53], "nice": false, "zero": false}, "axis": {"values": [2,4,6], "title": "强度 λ(t)", "grid": true}},
    "color": {"field": "series", "type": "nominal",
      "scale": {"domain": ["Hawkes λ(t)", "泊松强度 μ/(1-α)=1.50", "背景强度 μ"], "range": ["#c0392b", "#2980b9", "#808080"]},
      "legend": {"orient": "top-right", "title": null, "offset": 5, "fillColor": "white", "strokeColor": "#cccccc", "cornerRadius": 3, "padding": 5, "labelFontSize": 10.5, "labelColor": "black", "labelAlign": "left", "symbolType": "stroke", "symbolSize": 360, "symbolStrokeWidth": 1.6, "symbolOffset": 0, "rowPadding": 0, "labelOffset": 14}},
    "strokeDash": {"field": "series", "type": "nominal",
      "scale": {"domain": ["Hawkes λ(t)", "泊松强度 μ/(1-α)=1.50", "背景强度 μ"], "range": [[40, 0.001], [6, 3], [1.4, 2.3]]}}
   }},
  {"data": {"name": "lam"},
   "mark": {"type": "line", "strokeWidth": 1.5, "color": "#c0392b"},
   "encoding": {
    "x": {"field": "t", "type": "quantitative", "scale": {"domain": [-10, 210], "nice": false, "zero": false}, "axis": {"values": [0,25,50,75,100,125,150,175,200], "title": "时间 t", "grid": true, "labelPadding": 11, "titlePadding": 6}},
    "y": {"field": "v", "type": "quantitative"}
   }}
 ]
}
],
"spacing": 32
}
